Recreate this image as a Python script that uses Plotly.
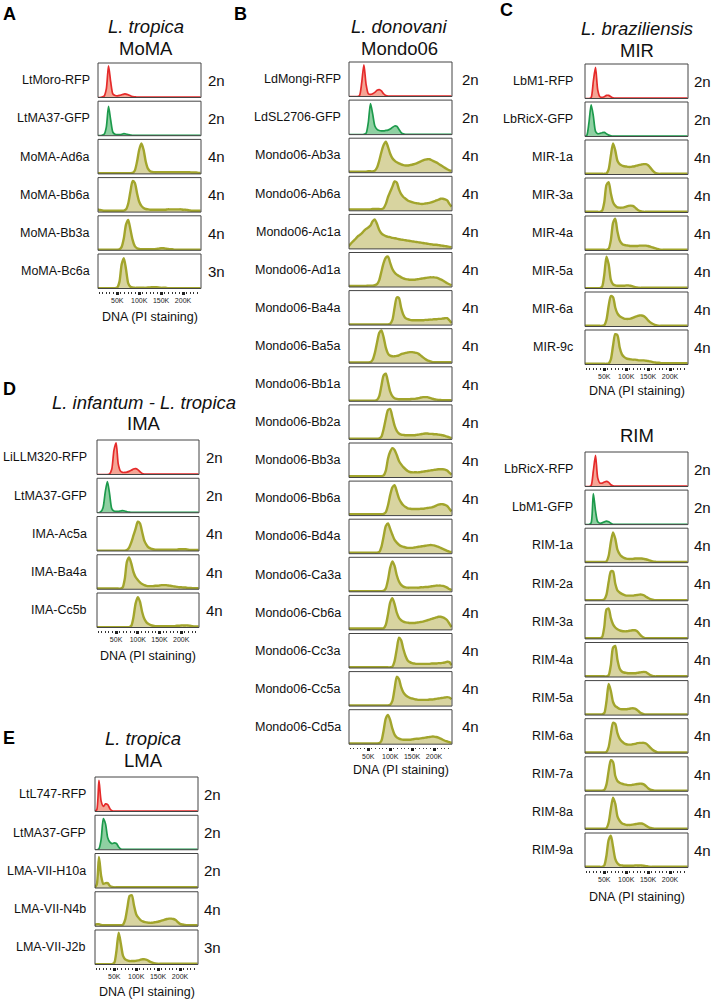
import plotly.graph_objects as go

W, H = 711, 1000
FONT = "Liberation Sans, Arial, Helvetica, sans-serif"

# DNA content (PI staining), in thousands
DNA_K = [0, 5, 10, 15, 20, 25, 30, 35, 40, 45, 50, 55, 60, 65, 70, 75, 80, 85, 90, 95,
         100, 105, 110, 115, 120, 125, 130, 135, 140, 145, 150, 155, 160, 165, 170, 175,
         180, 185, 190, 195, 200, 205, 210, 215, 220, 225, 230, 235, 240]

# --- A: L. tropica MoMA ---
MOMA_LABELS = ["LtMoro-RFP", "LtMA37-GFP", "MoMA-Ad6a", "MoMA-Bb6a", "MoMA-Bb3a", "MoMA-Bc6a"]
MOMA_PLOIDY = ["2n", "2n", "4n", "4n", "4n", "3n"]
MOMA_COUNTS = [
    [0,0,0,1,4,25,92,45,10,6, 5,6,8,10,10,8,5,3,2,1, 1,1,1,1,1,1,1,1,1,1, 1,1,1,1,1,1,1,1,1,1, 1,1,1,1,1,1,1,1,1],
    [0,0,0,1,4,25,85,45,10,4, 3,3,4,6,5,3,2,1,1,1, 1,1,1,1,1,1,1,1,1,1, 1,1,1,1,1,1,1,1,1,1, 1,1,1,1,1,1,1,1,1],
    [2,2,2,2,2,2,2,2,2,2, 2,2,2,2,2,2,2,3,10,35, 70,88,70,35,15,8,6,5,5,5, 5,5,5,5,5,5,5,5,5,5, 5,5,5,5,4,4,4,3,3],
    [6,8,6,5,4,4,4,4,4,4, 4,4,4,4,8,25,60,90,85,55, 30,18,12,9,8,7,7,7,7,7, 7,7,7,8,8,8,8,8,8,8, 7,7,6,5,4,4,4,4,4],
    [2,2,2,2,2,2,2,2,2,2, 2,3,10,35,75,88,60,30,12,6, 4,3,3,3,3,3,3,3,4,5, 6,6,5,4,3,3,2,2,2,2, 2,2,2,2,2,2,2,2,2],
    [1,1,1,1,1,1,1,1,1,1, 3,20,70,88,55,15,5,3,2,2, 2,2,2,2,3,3,4,4,4,3, 2,2,2,1,1,1,1,1,1,1, 1,1,1,1,1,1,1,1,1],
]

# --- B: L. donovani Mondo06 ---
MONDO_LABELS = ["LdMongi-RFP", "LdSL2706-GFP", "Mondo06-Ab3a", "Mondo06-Ab6a", "Mondo06-Ac1a",
                "Mondo06-Ad1a", "Mondo06-Ba4a", "Mondo06-Ba5a", "Mondo06-Bb1a", "Mondo06-Bb2a",
                "Mondo06-Bb3a", "Mondo06-Bb6a", "Mondo06-Bd4a", "Mondo06-Ca3a", "Mondo06-Cb6a",
                "Mondo06-Cc3a", "Mondo06-Cc5a", "Mondo06-Cd5a"]
MONDO_PLOIDY = ["2n", "2n"] + ["4n"] * 16
MONDO_COUNTS = [
    [0,0,0,0,0,0,3,40,92,35, 8,6,8,12,18,20,16,8,3,1, 1,1,1,1,1,1,1,1,1,1, 1,1,1,1,1,1,1,1,1,1, 1,1,1,1,1,1,1,1,1],
    [0,0,0,0,0,0,0,0,1,4, 35,90,60,25,15,12,11,11,12,13, 16,21,25,24,15,6,2,1,1,1, 1,1,1,1,1,1,1,1,1,1, 1,1,1,1,1,1,1,1,1],
    [3,3,3,3,3,3,3,3,3,3, 4,4,4,6,15,35,60,80,90,75, 55,42,35,30,27,24,22,21,21,22, 23,25,27,30,33,36,38,39,39,36, 33,30,26,22,18,14,10,7,5],
    [4,4,4,4,4,4,4,4,4,4, 4,4,5,5,5,5,5,8,20,40, 55,70,85,82,62,48,40,35,30,27, 25,23,22,21,20,20,21,22,23,25, 27,30,32,35,35,33,30,20,12],
    [5,8,15,22,28,35,40,45,52,58, 62,68,80,85,72,55,45,40,37,35, 34,32,31,30,28,27,26,25,24,23, 22,21,20,19,18,17,16,15,14,13, 12,12,11,10,9,8,7,6,5],
    [3,3,3,3,3,3,3,3,3,3, 4,4,4,5,8,20,45,70,85,88, 70,52,42,36,32,28,25,23,22,21, 21,21,22,23,24,25,26,27,28,28, 28,27,25,22,19,15,11,8,5],
    [2,2,2,2,2,2,2,2,2,2, 2,2,2,2,2,2,2,2,2,2, 4,15,50,80,78,50,30,20,17,15, 14,14,14,14,14,14,15,15,16,16, 17,17,18,18,19,20,20,14,6],
    [2,2,2,2,2,2,2,2,2,2, 2,3,10,30,60,88,95,75,45,28, 22,20,20,21,23,26,28,30,31,32, 32,31,30,27,22,17,12,8,6,4, 3,3,3,3,3,3,3,3,3],
    [2,2,2,2,2,2,2,2,2,2, 2,2,2,2,4,15,45,75,80,55, 28,15,9,7,6,6,6,6,6,6, 7,7,8,9,11,12,12,12,10,8, 6,5,4,4,3,3,3,3,3],
    [2,2,2,2,2,2,2,2,2,2, 2,2,2,2,2,3,8,30,60,85, 88,65,40,25,17,14,13,12,12,12, 12,12,13,14,15,16,17,17,16,16, 15,15,14,13,12,10,8,6,4],
    [4,4,4,4,4,4,4,4,4,4, 4,4,4,4,4,4,4,6,20,55, 75,85,80,65,48,38,30,24,19,16, 15,15,15,15,16,17,18,19,20,21, 22,23,24,24,24,23,20,14,8],
    [4,4,4,4,4,4,4,4,4,4, 4,4,4,4,4,4,4,5,10,30, 60,82,88,70,50,38,30,25,21,20, 19,19,19,19,20,20,21,22,23,24, 26,29,32,33,33,31,28,20,12],
    [3,3,3,3,3,3,3,3,3,3, 3,3,3,3,3,5,20,50,80,88, 72,55,40,32,26,22,20,18,17,17, 17,18,19,20,21,22,23,24,25,25, 24,22,20,17,14,11,8,6,5],
    [2,2,2,2,2,2,2,2,2,2, 2,2,2,2,2,2,2,3,10,35, 70,88,75,48,30,20,15,13,12,12, 12,12,12,12,13,13,14,14,15,16, 17,18,18,18,17,15,12,8,5],
    [4,4,4,4,4,4,4,4,4,4, 4,4,4,4,4,4,4,5,15,45, 80,92,75,50,35,28,24,22,21,20, 20,20,21,22,23,24,26,28,30,32, 34,36,38,38,36,33,28,18,8],
    [2,2,2,2,2,2,2,2,2,2, 2,2,2,2,2,2,2,2,2,2, 2,4,20,55,88,80,55,35,22,17, 14,13,12,12,12,12,12,12,12,13, 13,13,14,14,15,16,18,17,8],
    [2,2,2,2,2,2,2,2,2,2, 2,2,2,2,2,2,2,2,2,2, 4,15,50,85,78,55,40,32,27,24, 22,20,19,18,18,18,18,18,19,19, 20,21,22,23,24,25,26,25,20],
    [2,2,2,2,2,2,2,2,2,2, 2,2,2,2,2,3,10,40,75,85, 70,45,28,20,16,14,13,13,13,13, 14,15,16,16,17,18,19,20,21,22, 22,21,19,16,13,10,8,6,4],
]

# --- C: L. braziliensis MIR and RIM ---
MIR_LABELS = ["LbM1-RFP", "LbRicX-GFP", "MIR-1a", "MIR-3a", "MIR-4a", "MIR-5a", "MIR-6a", "MIR-9c"]
MIR_PLOIDY = ["2n", "2n", "4n", "4n", "4n", "4n", "4n", "4n"]
MIR_COUNTS = [
    [0,0,0,0,3,50,90,25,5,3, 5,9,9,5,2,1,1,1,1,1, 1,1,1,1,1,1,1,1,1,1, 1,1,1,1,1,1,1,1,1,1, 1,1,1,1,1,1,1,1,1],
    [0,0,3,40,92,60,15,8,9,11, 12,8,4,2,1,1,1,1,1,1, 1,1,1,1,1,1,1,1,1,1, 1,1,1,1,1,1,1,1,1,1, 1,1,1,1,1,1,1,1,1],
    [2,2,2,2,2,2,2,2,2,2, 2,3,15,55,90,70,40,30,26,24, 23,22,22,23,24,26,28,29,30,30, 27,20,12,6,3,2,2,2,2,2, 2,2,2,2,2,2,2,2,2],
    [2,2,2,2,2,2,2,2,2,5, 30,80,88,55,30,20,15,14,14,15, 17,19,20,19,15,9,5,3,2,2, 2,2,2,2,2,2,2,2,2,2, 2,2,2,2,2,2,2,2,2],
    [2,2,2,2,2,2,2,2,2,2, 2,2,5,30,80,92,55,30,20,16, 15,14,13,13,13,13,14,14,14,14, 13,11,9,7,5,3,2,2,2,2, 2,2,2,2,2,2,2,2,2],
    [1,1,1,1,1,1,1,1,1,5, 40,92,70,25,12,9,8,8,8,8, 9,9,8,6,4,3,2,2,2,2, 2,2,2,2,2,2,2,2,2,2, 2,2,2,2,2,2,2,2,2],
    [2,2,2,2,2,2,2,2,2,2, 4,20,60,88,85,55,38,30,26,23, 22,22,23,25,28,30,32,32,30,25, 18,12,8,5,3,2,2,2,2,2, 2,2,2,2,2,2,2,2,2],
    [2,2,2,2,2,2,2,2,2,2, 2,2,3,15,55,88,85,50,30,22, 18,16,15,14,14,13,12,12,12,11, 10,9,7,6,5,5,4,4,4,4, 4,4,4,4,4,4,4,4,4],
]

RIM_LABELS = ["LbRicX-RFP", "LbM1-GFP", "RIM-1a", "RIM-2a", "RIM-3a", "RIM-4a", "RIM-5a",
              "RIM-6a", "RIM-7a", "RIM-8a", "RIM-9a"]
RIM_PLOIDY = ["2n", "2n"] + ["4n"] * 9
RIM_COUNTS = [
    [0,0,0,0,3,45,90,25,10,10, 13,15,12,5,2,1,1,1,1,1, 1,1,1,1,1,1,1,1,1,1, 1,1,1,1,1,1,1,1,1,1, 1,1,1,1,1,1,1,1,1],
    [0,0,0,0,5,90,40,8,4,5, 8,10,8,4,1,1,1,1,1,1, 1,1,1,1,1,1,1,1,1,1, 1,1,1,1,1,1,1,1,1,1, 1,1,1,1,1,1,1,1,1],
    [2,2,2,2,2,2,2,2,2,2, 2,4,20,60,88,70,38,25,18,14, 12,11,11,11,12,12,12,12,11,10, 8,6,4,3,2,2,2,2,2,2, 2,2,2,2,2,2,2,2,2],
    [2,2,2,2,2,2,2,2,2,2, 4,18,55,85,85,50,30,24,20,17, 15,15,15,15,16,17,18,18,16,12, 8,5,3,2,2,2,2,2,2,2, 2,2,2,2,2,2,2,2,2],
    [2,2,2,2,2,2,2,2,2,5, 35,85,88,60,42,33,28,25,23,22, 22,23,24,25,25,22,15,8,4,2, 2,2,2,2,2,2,2,2,2,2, 2,2,2,2,2,2,2,2,2],
    [2,2,2,2,2,2,2,2,2,2, 2,2,5,35,85,90,50,25,16,13, 12,11,11,11,11,12,13,14,15,14, 10,6,3,2,2,2,2,2,2,2, 2,2,2,2,2,2,2,2,2],
    [2,2,2,2,2,2,2,2,2,2, 6,40,90,70,38,26,22,18,17,17, 17,18,19,20,19,15,9,5,3,2, 2,2,2,2,2,2,2,2,2,2, 2,2,2,2,2,2,2,2,2],
    [2,2,2,2,2,2,2,2,2,2, 2,4,18,55,88,85,58,42,34,29, 26,25,25,26,27,29,30,30,30,28, 23,16,10,6,3,2,2,2,2,2, 2,2,2,2,2,2,2,2,2],
    [2,2,2,2,2,2,2,2,2,2, 4,20,60,90,85,45,30,25,22,20, 19,18,18,19,20,21,22,22,20,15, 9,5,3,2,2,2,2,2,2,2, 2,2,2,2,2,2,2,2,2],
    [2,2,2,2,2,2,2,2,2,2, 2,4,20,60,92,75,38,25,18,15, 13,13,13,14,15,16,17,17,15,11, 7,4,3,2,2,2,2,2,2,2, 2,2,2,2,2,2,2,2,2],
    [2,2,2,2,2,2,2,2,2,2, 6,35,80,92,60,25,12,7,6,5, 5,5,5,5,6,6,6,6,5,4, 3,2,2,2,2,2,2,2,2,2, 2,2,2,2,2,2,2,2,2],
]

# --- D: L. infantum - L. tropica IMA ---
IMA_LABELS = ["LiLLM320-RFP", "LtMA37-GFP", "IMA-Ac5a", "IMA-Ba4a", "IMA-Cc5b"]
IMA_PLOIDY = ["2n", "2n", "4n", "4n", "4n"]
IMA_COUNTS = [
    [0,0,0,0,0,0,0,2,15,70, 92,30,10,6,6,7,9,12,16,17, 14,8,3,1,1,1,1,1,1,1, 1,1,1,1,1,1,1,1,1,1, 1,1,1,1,1,1,1,1,1],
    [0,0,0,3,15,60,90,55,12,5, 4,4,5,6,5,3,2,1,1,1, 1,1,1,1,1,1,1,1,1,1, 1,1,1,1,1,1,1,1,1,1, 1,1,1,1,1,1,1,1,1],
    [1,1,1,1,1,1,1,1,1,1, 1,1,1,1,1,3,10,25,45,65, 85,80,55,30,18,10,7,5,4,4, 4,4,4,4,4,4,4,4,4,5, 5,5,5,4,3,3,3,3,3],
    [2,2,2,2,2,2,2,2,2,2, 2,2,2,5,30,80,92,75,50,35, 27,20,15,12,10,9,9,9,10,10, 11,12,12,12,11,10,9,8,7,6, 6,5,5,4,4,3,3,3,3],
    [1,1,1,1,1,1,1,1,1,1, 1,1,1,1,1,1,1,5,30,70, 88,75,45,25,15,10,7,5,4,4, 4,4,4,4,4,4,4,4,5,5, 6,6,6,6,5,4,3,3,3],
]

# --- E: L. tropica LMA ---
LMA_LABELS = ["LtL747-RFP", "LtMA37-GFP", "LMA-VII-H10a", "LMA-VII-N4b", "LMA-VII-J2b"]
LMA_PLOIDY = ["2n", "2n", "2n", "4n", "3n"]
LMA_COUNTS = [
    [0,0,5,90,30,15,22,20,8,2, 1,1,1,1,1,1,1,1,1,1, 1,1,1,1,1,1,1,1,1,1, 1,1,1,1,1,1,1,1,1,1, 1,1,1,1,1,1,1,1,1],
    [0,0,0,3,30,90,75,35,22,18, 20,18,8,2,1,1,1,1,1,1, 1,1,1,1,1,1,1,1,1,1, 1,1,1,1,1,1,1,1,1,1, 1,1,1,1,1,1,1,1,1],
    [1,2,10,90,35,12,14,14,6,3, 2,2,2,2,2,2,2,2,2,2, 2,2,2,2,2,2,2,2,2,2, 2,2,2,2,2,2,2,2,2,2, 2,2,2,2,2,2,2,2,2],
    [2,4,6,6,4,3,3,3,3,3, 3,3,3,3,5,20,55,88,90,60, 35,25,18,14,12,11,10,10,11,12, 13,15,17,19,21,22,22,21,18,12, 7,5,4,3,3,3,3,3,3],
    [1,1,1,1,1,1,1,1,1,1, 5,40,92,60,25,15,12,10,10,10, 11,12,14,15,15,13,9,6,4,3, 2,2,2,2,2,2,2,2,2,2, 2,2,2,2,2,2,2,2,2],
]

# layout of each block of rows, in pixels
BLOCKS = [
    dict(labels=MOMA_LABELS, ploidy=MOMA_PLOIDY, counts=MOMA_COUNTS,
         left=98, right=201, top=63, pitch=38.2, lab_gap=6, pl_gap=5, dna=28),
    dict(labels=MONDO_LABELS, ploidy=MONDO_PLOIDY, counts=MONDO_COUNTS,
         left=349, right=452, top=62, pitch=38.1, lab_gap=6, pl_gap=8, dna=26),
    dict(labels=MIR_LABELS, ploidy=MIR_PLOIDY, counts=MIR_COUNTS,
         left=585, right=688, top=64, pitch=38.0, lab_gap=10, pl_gap=4, dna=27),
    dict(labels=RIM_LABELS, ploidy=RIM_PLOIDY, counts=RIM_COUNTS,
         left=585, right=688, top=452, pitch=38.1, lab_gap=10, pl_gap=4, dna=29),
    dict(labels=IMA_LABELS, ploidy=IMA_PLOIDY, counts=IMA_COUNTS,
         left=97, right=199, top=440, pitch=38.25, lab_gap=8, pl_gap=5, dna=28),
    dict(labels=LMA_LABELS, ploidy=LMA_PLOIDY, counts=LMA_COUNTS,
         left=95, right=198, top=777, pitch=38.25, lab_gap=7, pl_gap=4, dna=27),
]
ROW_H = 34.5
X_RANGE = [6, 241]

TITLES = [  # (text, x, y) in pixels
    ("<i>L. tropica</i>", 146, 26), ("MoMA", 146, 48),
    ("<i>L. donovani</i>", 399, 26), ("Mondo06", 399, 48),
    ("<i>L. braziliensis</i>", 637, 28), ("MIR", 637, 50),
    ("RIM", 637, 436),
    ("<i>L. infantum - L. tropica</i>", 144, 402), ("IMA", 144, 423),
    ("<i>L. tropica</i>", 143, 738), ("LMA", 143, 760),
]
LETTERS = [("A", 1, 14), ("B", 232, 14), ("C", 498, 10), ("D", 1, 389), ("E", 1, 738)]


def px(x):
    return x / W


def py(y):
    return 1 - y / H


def colours(label):
    if label.endswith("-RFP"):
        return "#e52a2a", "#f4a595", 1.7
    if label.endswith("-GFP"):
        return "#1d9a4c", "#8fd0a2", 1.7
    return "#a2a52c", "#d8d4a0", 2.4


fig = go.Figure()
axes = {}
annotations = []
shapes = []
n = 0
for blk in BLOCKS:
    nrows = len(blk["labels"])
    for r, (label, ploidy, counts) in enumerate(zip(blk["labels"], blk["ploidy"], blk["counts"])):
        assert len(counts) == len(DNA_K), label
        n += 1
        top = blk["top"] + r * blk["pitch"]
        bottom = top + ROW_H
        xa, ya = ("x", "y") if n == 1 else (f"x{n}", f"y{n}")
        line_c, fill_c, lw = colours(label)
        fig.add_trace(go.Scatter(
            x=DNA_K, y=counts, xaxis=xa, yaxis=ya, mode="lines",
            line={"color": line_c, "width": lw, "shape": "spline", "smoothing": 0.7},
            fill="tozeroy", fillcolor=fill_c, hoverinfo="skip", showlegend=False,
        ))
        xaxis = dict(domain=[px(blk["left"]), px(blk["right"])], range=X_RANGE,
                     showgrid=False, zeroline=False, showline=False, fixedrange=True)
        if r == nrows - 1:
            xaxis.update(
                anchor="free", position=py(bottom + 2.5), ticks="outside",
                tickvals=[50, 100, 150, 200], ticktext=["50K", "100K", "150K", "200K"],
                ticklen=3, tickwidth=3, tickcolor="#222",
                tickfont={"family": FONT, "size": 7, "color": "#222"},
                minor={"ticks": "outside", "dtick": 50 / 6, "tick0": 0,
                       "ticklen": 1.6, "tickwidth": 1.4, "tickcolor": "#333"},
            )
            annotations.append(dict(
                text="DNA (PI staining)", x=px((blk["left"] + blk["right"]) / 2),
                y=py(bottom + blk["dna"]), xref="paper", yref="paper", showarrow=False,
                xanchor="center", yanchor="middle",
                font={"family": FONT, "size": 12.5, "color": "#111"},
            ))
        else:
            xaxis.update(anchor=ya, showticklabels=False, ticks="")
        axes["xaxis" if n == 1 else f"xaxis{n}"] = xaxis
        axes["yaxis" if n == 1 else f"yaxis{n}"] = dict(
            domain=[py(bottom), py(top)], anchor=xa, range=[0, 100], visible=False, fixedrange=True,
        )
        shapes.append(dict(type="rect", xref=f"{xa} domain", yref=f"{ya} domain",
                           x0=0, x1=1, y0=0, y1=1, layer="above",
                           line={"color": "#454545", "width": 1}))
        mid = py(top + ROW_H / 2)
        annotations.append(dict(
            text=label, x=px(blk["left"] - blk["lab_gap"]), y=mid, xref="paper", yref="paper",
            showarrow=False, xanchor="right", yanchor="middle",
            font={"family": FONT, "size": 12.5, "color": "#111"},
        ))
        annotations.append(dict(
            text=ploidy, x=px(blk["right"] + blk["pl_gap"]), y=mid, xref="paper", yref="paper",
            showarrow=False, xanchor="left", yanchor="middle",
            font={"family": FONT, "size": 15, "color": "#111"},
        ))

for text, x, y in TITLES:
    annotations.append(dict(
        text=text, x=px(x), y=py(y), xref="paper", yref="paper", showarrow=False,
        xanchor="center", yanchor="middle", font={"family": FONT, "size": 18.5, "color": "#111"},
    ))
for text, x, y in LETTERS:
    annotations.append(dict(
        text=f"<b>{text}</b>", x=px(x), y=py(y), xref="paper", yref="paper", showarrow=False,
        xanchor="left", yanchor="middle", font={"family": FONT, "size": 18, "color": "#000"},
    ))

fig.update_layout(
    width=W, height=H, autosize=False,
    margin={"l": 0, "r": 0, "t": 0, "b": 0},
    paper_bgcolor="white", plot_bgcolor="white",
    annotations=annotations, shapes=shapes, **axes,
)
# the page body has a default 8px margin; drop it so the figure fills the window
fig.write_html("out.html", config={"displayModeBar": False},
               post_script="document.body.style.margin = '0';")
